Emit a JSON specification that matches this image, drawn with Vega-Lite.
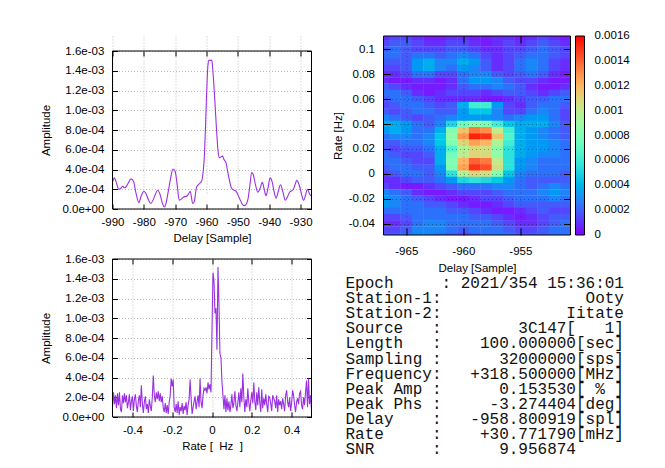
{
"$schema":"https://vega.github.io/schema/vega-lite/v6.json",
"padding":{"left":40.5,"top":35,"right":5,"bottom":5},
"background":"white",
"config":{
 "font":"Liberation Sans",
 "view":{"stroke":"#000","strokeWidth":1},
 "axis":{"labelFont":"Liberation Sans","labelFontSize":11.5,"labelColor":"#000","titleFont":"Liberation Sans","titleFontSize":11.5,"titleFontWeight":"normal","titleColor":"#000","domain":false,"tickColor":"#000","tickSize":-5,"tickWidth":1,"gridColor":"#bdbdbd","gridDash":[1,2],"gridOpacity":1,"labelOverlap":false,"labelFlush":false},
 "legend":{"gradientStrokeColor":"#000","gradientStrokeWidth":1,"labelFont":"Liberation Sans","labelFontSize":11.5,"labelColor":"#000"}
},
"datasets":{
"tl":[{"delay":-990,"amp":0.00027},{"delay":-989.4,"amp":0.000315},{"delay":-988.7,"amp":0.00026},{"delay":-988,"amp":0.0002},{"delay":-987.3,"amp":0.00021},{"delay":-986.8,"amp":0.00023},{"delay":-986.2,"amp":0.000215},{"delay":-985.8,"amp":0.00022},{"delay":-985,"amp":0.00026},{"delay":-984.1,"amp":0.000305},{"delay":-983.3,"amp":0.00028},{"delay":-982.5,"amp":0.00016},{"delay":-981.6,"amp":0.000065},{"delay":-980.8,"amp":0.000135},{"delay":-980,"amp":0.00018},{"delay":-979.3,"amp":0.000155},{"delay":-978.5,"amp":0.00009},{"delay":-977.8,"amp":0.000055},{"delay":-977,"amp":0.000095},{"delay":-976.3,"amp":0.00015},{"delay":-975.6,"amp":0.00019},{"delay":-974.8,"amp":0.000145},{"delay":-974.1,"amp":0.00006},{"delay":-973.5,"amp":0.00002},{"delay":-972.9,"amp":0.00006},{"delay":-972.3,"amp":0.00016},{"delay":-971.4,"amp":0.00032},{"delay":-970.7,"amp":0.000405},{"delay":-970,"amp":0.00038},{"delay":-969.3,"amp":0.00023},{"delay":-968.7,"amp":0.00009},{"delay":-968,"amp":0.0001},{"delay":-967.4,"amp":0.00012},{"delay":-966.3,"amp":0.00013},{"delay":-965.6,"amp":0.00016},{"delay":-965.2,"amp":0.00018},{"delay":-964.4,"amp":0.000055},{"delay":-963.9,"amp":0.000075},{"delay":-963.2,"amp":0.00022},{"delay":-962.5,"amp":0.00025},{"delay":-961.6,"amp":0.00028},{"delay":-961,"amp":0.0004},{"delay":-960.7,"amp":0.00053},{"delay":-960.3,"amp":0.00085},{"delay":-960,"amp":0.00114},{"delay":-959.6,"amp":0.00143},{"delay":-959.3,"amp":0.001505},{"delay":-958.3,"amp":0.001505},{"delay":-958.1,"amp":0.00145},{"delay":-957.7,"amp":0.00128},{"delay":-957.3,"amp":0.001075},{"delay":-956.8,"amp":0.0008},{"delay":-956.3,"amp":0.00058},{"delay":-955.9,"amp":0.00052},{"delay":-955.3,"amp":0.00053},{"delay":-954.9,"amp":0.000535},{"delay":-954.4,"amp":0.0005},{"delay":-953.8,"amp":0.00047},{"delay":-953,"amp":0.00034},{"delay":-952,"amp":0.00021},{"delay":-951.2,"amp":0.00019},{"delay":-950.6,"amp":0.00018},{"delay":-949.5,"amp":0.00011},{"delay":-948.6,"amp":0.00005},{"delay":-947.9,"amp":0.000034},{"delay":-947.3,"amp":0.00005},{"delay":-946.8,"amp":0.000095},{"delay":-946.2,"amp":0.00023},{"delay":-945.6,"amp":0.00037},{"delay":-945.1,"amp":0.00035},{"delay":-944.4,"amp":0.00025},{"delay":-943.6,"amp":0.00017},{"delay":-942.9,"amp":0.00021},{"delay":-942.2,"amp":0.00027},{"delay":-941.6,"amp":0.0002},{"delay":-941,"amp":0.000135},{"delay":-940.4,"amp":0.00021},{"delay":-939.7,"amp":0.000315},{"delay":-939.1,"amp":0.00028},{"delay":-938.4,"amp":0.00017},{"delay":-937.8,"amp":0.00011},{"delay":-937.1,"amp":0.00018},{"delay":-936.4,"amp":0.000245},{"delay":-935.6,"amp":0.00017},{"delay":-934.9,"amp":0.000088},{"delay":-934.2,"amp":0.00012},{"delay":-933.5,"amp":0.00017},{"delay":-932.4,"amp":0.000195},{"delay":-931.8,"amp":0.00024},{"delay":-931.2,"amp":0.00029},{"delay":-930.3,"amp":0.00023},{"delay":-929.6,"amp":0.00014},{"delay":-929,"amp":0.000088},{"delay":-928.4,"amp":0.00014},{"delay":-927.8,"amp":0.0002},{"delay":-927,"amp":0.000145},{"delay":-926.5,"amp":0.00013}],
"bl":[{"rate":-0.5,"amp":0.0001},{"rate":-0.495,"amp":0.00025},{"rate":-0.49,"amp":0.00013},{"rate":-0.485,"amp":0.00022},{"rate":-0.48,"amp":0.00009},{"rate":-0.475,"amp":0.00024},{"rate":-0.47,"amp":0.00012},{"rate":-0.465,"amp":0.00025},{"rate":-0.46,"amp":0.00008},{"rate":-0.455,"amp":0.00005},{"rate":-0.45,"amp":0.00022},{"rate":-0.445,"amp":0.00014},{"rate":-0.44,"amp":0.00024},{"rate":-0.435,"amp":0.00015},{"rate":-0.43,"amp":0.00022},{"rate":-0.425,"amp":0.00009},{"rate":-0.42,"amp":0.00015},{"rate":-0.415,"amp":0.00023},{"rate":-0.41,"amp":0.00007},{"rate":-0.405,"amp":0.00016},{"rate":-0.4,"amp":0.00021},{"rate":-0.395,"amp":0.00006},{"rate":-0.39,"amp":0.00018},{"rate":-0.385,"amp":0.00023},{"rate":-0.38,"amp":0.00011},{"rate":-0.375,"amp":0.00005},{"rate":-0.37,"amp":0.00017},{"rate":-0.365,"amp":0.00022},{"rate":-0.36,"amp":0.0001},{"rate":-0.355,"amp":0.00032},{"rate":-0.35,"amp":0.00014},{"rate":-0.345,"amp":0.00004},{"rate":-0.34,"amp":0.00015},{"rate":-0.335,"amp":0.00021},{"rate":-0.33,"amp":0.00008},{"rate":-0.325,"amp":0.00013},{"rate":-0.32,"amp":0.00004},{"rate":-0.315,"amp":0.00018},{"rate":-0.31,"amp":0.00011},{"rate":-0.305,"amp":0.00006},{"rate":-0.3,"amp":0.0002},{"rate":-0.295,"amp":0.00042},{"rate":-0.29,"amp":0.00022},{"rate":-0.285,"amp":0.00015},{"rate":-0.28,"amp":0.00025},{"rate":-0.275,"amp":0.00018},{"rate":-0.27,"amp":0.00026},{"rate":-0.265,"amp":0.00016},{"rate":-0.26,"amp":0.00024},{"rate":-0.255,"amp":0.00015},{"rate":-0.25,"amp":0.00021},{"rate":-0.245,"amp":0.00009},{"rate":-0.24,"amp":0.00005},{"rate":-0.235,"amp":0.00014},{"rate":-0.23,"amp":0.00004},{"rate":-0.225,"amp":0.00012},{"rate":-0.22,"amp":0.00003},{"rate":-0.215,"amp":0.00015},{"rate":-0.21,"amp":0.00022},{"rate":-0.205,"amp":0.00039},{"rate":-0.2,"amp":0.00031},{"rate":-0.195,"amp":0.00038},{"rate":-0.19,"amp":0.0001},{"rate":-0.185,"amp":0.00005},{"rate":-0.18,"amp":0.00013},{"rate":-0.175,"amp":0.00004},{"rate":-0.17,"amp":0.00016},{"rate":-0.165,"amp":0.00002},{"rate":-0.16,"amp":0.0001},{"rate":-0.155,"amp":0.00006},{"rate":-0.15,"amp":0.00014},{"rate":-0.145,"amp":0.00003},{"rate":-0.14,"amp":0.00011},{"rate":-0.135,"amp":0.00007},{"rate":-0.13,"amp":0.00015},{"rate":-0.125,"amp":0.00002},{"rate":-0.12,"amp":0.00012},{"rate":-0.115,"amp":0.00018},{"rate":-0.11,"amp":0.00038},{"rate":-0.105,"amp":0.00019},{"rate":-0.1,"amp":0.00003},{"rate":-0.095,"amp":0.0001},{"rate":-0.09,"amp":0.00016},{"rate":-0.085,"amp":0.00021},{"rate":-0.08,"amp":0.00008},{"rate":-0.075,"amp":0.00015},{"rate":-0.07,"amp":0.00022},{"rate":-0.065,"amp":0.0001},{"rate":-0.06,"amp":0.00039},{"rate":-0.055,"amp":0.00015},{"rate":-0.05,"amp":0.00009},{"rate":-0.045,"amp":0.00022},{"rate":-0.04,"amp":0.00029},{"rate":-0.035,"amp":0.00027},{"rate":-0.03,"amp":0.0003},{"rate":-0.025,"amp":0.00024},{"rate":-0.02,"amp":0.00035},{"rate":-0.015,"amp":0.00028},{"rate":-0.01,"amp":0.00033},{"rate":-0.005,"amp":0.00025},{"rate":0,"amp":0.0009},{"rate":0.005,"amp":0.00146},{"rate":0.01,"amp":0.00138},{"rate":0.015,"amp":0.00105},{"rate":0.02,"amp":0.0011},{"rate":0.025,"amp":0.00068},{"rate":0.03,"amp":0.00152},{"rate":0.035,"amp":0.00115},{"rate":0.04,"amp":0.00064},{"rate":0.045,"amp":0.0006},{"rate":0.05,"amp":0.00036},{"rate":0.055,"amp":0.00022},{"rate":0.06,"amp":0.00008},{"rate":0.065,"amp":0.00022},{"rate":0.07,"amp":0.00005},{"rate":0.075,"amp":0.00019},{"rate":0.08,"amp":0.00007},{"rate":0.085,"amp":0.00016},{"rate":0.09,"amp":0.00005},{"rate":0.095,"amp":0.00012},{"rate":0.1,"amp":0.00023},{"rate":0.105,"amp":0.00009},{"rate":0.11,"amp":0.00014},{"rate":0.115,"amp":0.00026},{"rate":0.12,"amp":0.00012},{"rate":0.125,"amp":0.00006},{"rate":0.13,"amp":0.00015},{"rate":0.135,"amp":0.00025},{"rate":0.14,"amp":0.0001},{"rate":0.145,"amp":0.00029},{"rate":0.15,"amp":0.00015},{"rate":0.155,"amp":0.00044},{"rate":0.16,"amp":0.0002},{"rate":0.165,"amp":0.00005},{"rate":0.17,"amp":0.00018},{"rate":0.175,"amp":0.0001},{"rate":0.18,"amp":0.00029},{"rate":0.185,"amp":0.00015},{"rate":0.19,"amp":0.00006},{"rate":0.195,"amp":0.00017},{"rate":0.2,"amp":0.00025},{"rate":0.205,"amp":0.00014},{"rate":0.21,"amp":0.00035},{"rate":0.215,"amp":0.00016},{"rate":0.22,"amp":0.00007},{"rate":0.225,"amp":0.00025},{"rate":0.23,"amp":0.00012},{"rate":0.235,"amp":0.0003},{"rate":0.24,"amp":0.00015},{"rate":0.245,"amp":0.00005},{"rate":0.25,"amp":0.00028},{"rate":0.255,"amp":0.00009},{"rate":0.26,"amp":0.00019},{"rate":0.265,"amp":0.00012},{"rate":0.27,"amp":0.00023},{"rate":0.275,"amp":0.00013},{"rate":0.28,"amp":0.00005},{"rate":0.285,"amp":0.00021},{"rate":0.29,"amp":0.0002},{"rate":0.295,"amp":0.00014},{"rate":0.3,"amp":0.00006},{"rate":0.305,"amp":0.00022},{"rate":0.31,"amp":0.00019},{"rate":0.315,"amp":0.00016},{"rate":0.32,"amp":0.00009},{"rate":0.325,"amp":0.00022},{"rate":0.33,"amp":0.00005},{"rate":0.335,"amp":0.00018},{"rate":0.34,"amp":0.00012},{"rate":0.345,"amp":0.00016},{"rate":0.35,"amp":0.00008},{"rate":0.355,"amp":0.00019},{"rate":0.36,"amp":0.00013},{"rate":0.365,"amp":0.00006},{"rate":0.37,"amp":0.00022},{"rate":0.375,"amp":0.00027},{"rate":0.38,"amp":0.00015},{"rate":0.385,"amp":0.0001},{"rate":0.39,"amp":0.0002},{"rate":0.395,"amp":0.00006},{"rate":0.4,"amp":0.00014},{"rate":0.405,"amp":0.00027},{"rate":0.41,"amp":0.00022},{"rate":0.415,"amp":0.00012},{"rate":0.42,"amp":0.00005},{"rate":0.425,"amp":0.00015},{"rate":0.43,"amp":0.00019},{"rate":0.435,"amp":0.00013},{"rate":0.44,"amp":0.00024},{"rate":0.445,"amp":0.00026},{"rate":0.45,"amp":0.00012},{"rate":0.455,"amp":0.00008},{"rate":0.46,"amp":0.0002},{"rate":0.465,"amp":0.00012},{"rate":0.47,"amp":0.00025},{"rate":0.475,"amp":0.00037},{"rate":0.48,"amp":0.0001},{"rate":0.485,"amp":0.00039},{"rate":0.49,"amp":0.00013},{"rate":0.495,"amp":0.00022},{"rate":0.5,"amp":0.00007}],
"hm":[
{"d":-967,"r":0.11,"a":0.00008},{"d":-966,"r":0.11,"a":0.00013},{"d":-965,"r":0.11,"a":0.00013},{"d":-964,"r":0.11,"a":0.00008},{"d":-963,"r":0.11,"a":0.00003},{"d":-962,"r":0.11,"a":0.00003},{"d":-961,"r":0.11,"a":0.00008},{"d":-960,"r":0.11,"a":0.00008},{"d":-959,"r":0.11,"a":0.00003},{"d":-958,"r":0.11,"a":0.00003},{"d":-957,"r":0.11,"a":0.00008},{"d":-956,"r":0.11,"a":0.00008},{"d":-955,"r":0.11,"a":0.00003},{"d":-954,"r":0.11,"a":0.00008},{"d":-953,"r":0.11,"a":0.00013},{"d":-952,"r":0.11,"a":0.00008},{"d":-951,"r":0.11,"a":0.00003},
{"d":-967,"r":0.105,"a":0.00013},{"d":-966,"r":0.105,"a":0.00018},{"d":-965,"r":0.105,"a":0.00018},{"d":-964,"r":0.105,"a":0.00013},{"d":-963,"r":0.105,"a":0.00008},{"d":-962,"r":0.105,"a":0.00008},{"d":-961,"r":0.105,"a":0.00013},{"d":-960,"r":0.105,"a":0.00013},{"d":-959,"r":0.105,"a":0.00008},{"d":-958,"r":0.105,"a":0.00003},{"d":-957,"r":0.105,"a":0.00008},{"d":-956,"r":0.105,"a":0.00013},{"d":-955,"r":0.105,"a":0.00008},{"d":-954,"r":0.105,"a":0.00013},{"d":-953,"r":0.105,"a":0.00018},{"d":-952,"r":0.105,"a":0.00013},{"d":-951,"r":0.105,"a":0.00008},
{"d":-967,"r":0.1,"a":0.00018},{"d":-966,"r":0.1,"a":0.00023},{"d":-965,"r":0.1,"a":0.00018},{"d":-964,"r":0.1,"a":0.00013},{"d":-963,"r":0.1,"a":0.00013},{"d":-962,"r":0.1,"a":0.00013},{"d":-961,"r":0.1,"a":0.00018},{"d":-960,"r":0.1,"a":0.00018},{"d":-959,"r":0.1,"a":0.00013},{"d":-958,"r":0.1,"a":0.00008},{"d":-957,"r":0.1,"a":0.00008},{"d":-956,"r":0.1,"a":0.00013},{"d":-955,"r":0.1,"a":0.00013},{"d":-954,"r":0.1,"a":0.00018},{"d":-953,"r":0.1,"a":0.00023},{"d":-952,"r":0.1,"a":0.00018},{"d":-951,"r":0.1,"a":0.00013},
{"d":-967,"r":0.095,"a":0.00023},{"d":-966,"r":0.095,"a":0.00023},{"d":-965,"r":0.095,"a":0.00018},{"d":-964,"r":0.095,"a":0.00023},{"d":-963,"r":0.095,"a":0.00023},{"d":-962,"r":0.095,"a":0.00018},{"d":-961,"r":0.095,"a":0.00023},{"d":-960,"r":0.095,"a":0.00028},{"d":-959,"r":0.095,"a":0.00023},{"d":-958,"r":0.095,"a":0.00013},{"d":-957,"r":0.095,"a":0.00008},{"d":-956,"r":0.095,"a":0.00013},{"d":-955,"r":0.095,"a":0.00018},{"d":-954,"r":0.095,"a":0.00023},{"d":-953,"r":0.095,"a":0.00023},{"d":-952,"r":0.095,"a":0.00018},{"d":-951,"r":0.095,"a":0.00013},
{"d":-967,"r":0.09,"a":0.00018},{"d":-966,"r":0.09,"a":0.00018},{"d":-965,"r":0.09,"a":0.00018},{"d":-964,"r":0.09,"a":0.00033},{"d":-963,"r":0.09,"a":0.00038},{"d":-962,"r":0.09,"a":0.00028},{"d":-961,"r":0.09,"a":0.00028},{"d":-960,"r":0.09,"a":0.00038},{"d":-959,"r":0.09,"a":0.00033},{"d":-958,"r":0.09,"a":0.00018},{"d":-957,"r":0.09,"a":0.00008},{"d":-956,"r":0.09,"a":0.00013},{"d":-955,"r":0.09,"a":0.00023},{"d":-954,"r":0.09,"a":0.00028},{"d":-953,"r":0.09,"a":0.00023},{"d":-952,"r":0.09,"a":0.00013},{"d":-951,"r":0.09,"a":0.00008},
{"d":-967,"r":0.085,"a":0.00013},{"d":-966,"r":0.085,"a":0.00013},{"d":-965,"r":0.085,"a":0.00018},{"d":-964,"r":0.085,"a":0.00033},{"d":-963,"r":0.085,"a":0.00038},{"d":-962,"r":0.085,"a":0.00028},{"d":-961,"r":0.085,"a":0.00023},{"d":-960,"r":0.085,"a":0.00033},{"d":-959,"r":0.085,"a":0.00028},{"d":-958,"r":0.085,"a":0.00018},{"d":-957,"r":0.085,"a":0.00008},{"d":-956,"r":0.085,"a":0.00013},{"d":-955,"r":0.085,"a":0.00023},{"d":-954,"r":0.085,"a":0.00028},{"d":-953,"r":0.085,"a":0.00023},{"d":-952,"r":0.085,"a":0.00013},{"d":-951,"r":0.085,"a":0.00008},
{"d":-967,"r":0.08,"a":0.00008},{"d":-966,"r":0.08,"a":0.00008},{"d":-965,"r":0.08,"a":0.00013},{"d":-964,"r":0.08,"a":0.00023},{"d":-963,"r":0.08,"a":0.00023},{"d":-962,"r":0.08,"a":0.00013},{"d":-961,"r":0.08,"a":0.00013},{"d":-960,"r":0.08,"a":0.00023},{"d":-959,"r":0.08,"a":0.00028},{"d":-958,"r":0.08,"a":0.00028},{"d":-957,"r":0.08,"a":0.00018},{"d":-956,"r":0.08,"a":0.00013},{"d":-955,"r":0.08,"a":0.00018},{"d":-954,"r":0.08,"a":0.00023},{"d":-953,"r":0.08,"a":0.00018},{"d":-952,"r":0.08,"a":0.00008},{"d":-951,"r":0.08,"a":0.00003},
{"d":-967,"r":0.075,"a":0.00008},{"d":-966,"r":0.075,"a":0.00003},{"d":-965,"r":0.075,"a":0.00003},{"d":-964,"r":0.075,"a":0.00008},{"d":-963,"r":0.075,"a":0.00008},{"d":-962,"r":0.075,"a":0.00003},{"d":-961,"r":0.075,"a":0.00008},{"d":-960,"r":0.075,"a":0.00023},{"d":-959,"r":0.075,"a":0.00033},{"d":-958,"r":0.075,"a":0.00033},{"d":-957,"r":0.075,"a":0.00028},{"d":-956,"r":0.075,"a":0.00018},{"d":-955,"r":0.075,"a":0.00013},{"d":-954,"r":0.075,"a":0.00013},{"d":-953,"r":0.075,"a":0.00008},{"d":-952,"r":0.075,"a":0.00003},{"d":-951,"r":0.075,"a":0.00003},
{"d":-967,"r":0.07,"a":0.00018},{"d":-966,"r":0.07,"a":0.00013},{"d":-965,"r":0.07,"a":0.00008},{"d":-964,"r":0.07,"a":0.00003},{"d":-963,"r":0.07,"a":0.00003},{"d":-962,"r":0.07,"a":0.00003},{"d":-961,"r":0.07,"a":0.00008},{"d":-960,"r":0.07,"a":0.00018},{"d":-959,"r":0.07,"a":0.00023},{"d":-958,"r":0.07,"a":0.00023},{"d":-957,"r":0.07,"a":0.00028},{"d":-956,"r":0.07,"a":0.00023},{"d":-955,"r":0.07,"a":0.00018},{"d":-954,"r":0.07,"a":0.00008},{"d":-953,"r":0.07,"a":0.00003},{"d":-952,"r":0.07,"a":0.00003},{"d":-951,"r":0.07,"a":0.00008},
{"d":-967,"r":0.065,"a":0.00023},{"d":-966,"r":0.065,"a":0.00023},{"d":-965,"r":0.065,"a":0.00018},{"d":-964,"r":0.065,"a":0.00008},{"d":-963,"r":0.065,"a":0.00003},{"d":-962,"r":0.065,"a":0.00008},{"d":-961,"r":0.065,"a":0.00013},{"d":-960,"r":0.065,"a":0.00013},{"d":-959,"r":0.065,"a":0.00013},{"d":-958,"r":0.065,"a":0.00008},{"d":-957,"r":0.065,"a":0.00013},{"d":-956,"r":0.065,"a":0.00018},{"d":-955,"r":0.065,"a":0.00018},{"d":-954,"r":0.065,"a":0.00013},{"d":-953,"r":0.065,"a":0.00008},{"d":-952,"r":0.065,"a":0.00013},{"d":-951,"r":0.065,"a":0.00018},
{"d":-967,"r":0.06,"a":0.00018},{"d":-966,"r":0.06,"a":0.00023},{"d":-965,"r":0.06,"a":0.00023},{"d":-964,"r":0.06,"a":0.00018},{"d":-963,"r":0.06,"a":0.00013},{"d":-962,"r":0.06,"a":0.00008},{"d":-961,"r":0.06,"a":0.00008},{"d":-960,"r":0.06,"a":0.00008},{"d":-959,"r":0.06,"a":0.00008},{"d":-958,"r":0.06,"a":0.00003},{"d":-957,"r":0.06,"a":0.00003},{"d":-956,"r":0.06,"a":0.00008},{"d":-955,"r":0.06,"a":0.00013},{"d":-954,"r":0.06,"a":0.00018},{"d":-953,"r":0.06,"a":0.00018},{"d":-952,"r":0.06,"a":0.00023},{"d":-951,"r":0.06,"a":0.00023},
{"d":-967,"r":0.055,"a":0.00013},{"d":-966,"r":0.055,"a":0.00018},{"d":-965,"r":0.055,"a":0.00023},{"d":-964,"r":0.055,"a":0.00023},{"d":-963,"r":0.055,"a":0.00018},{"d":-962,"r":0.055,"a":0.00013},{"d":-961,"r":0.055,"a":0.00018},{"d":-960,"r":0.055,"a":0.00038},{"d":-959,"r":0.055,"a":0.00061},{"d":-958,"r":0.055,"a":0.00061},{"d":-957,"r":0.055,"a":0.00033},{"d":-956,"r":0.055,"a":0.00013},{"d":-955,"r":0.055,"a":0.00008},{"d":-954,"r":0.055,"a":0.00018},{"d":-953,"r":0.055,"a":0.00023},{"d":-952,"r":0.055,"a":0.00023},{"d":-951,"r":0.055,"a":0.00018},
{"d":-967,"r":0.05,"a":0.00018},{"d":-966,"r":0.05,"a":0.00013},{"d":-965,"r":0.05,"a":0.00018},{"d":-964,"r":0.05,"a":0.00023},{"d":-963,"r":0.05,"a":0.00023},{"d":-962,"r":0.05,"a":0.00018},{"d":-961,"r":0.05,"a":0.00018},{"d":-960,"r":0.05,"a":0.00033},{"d":-959,"r":0.05,"a":0.00046},{"d":-958,"r":0.05,"a":0.00046},{"d":-957,"r":0.05,"a":0.00028},{"d":-956,"r":0.05,"a":0.00013},{"d":-955,"r":0.05,"a":0.00013},{"d":-954,"r":0.05,"a":0.00023},{"d":-953,"r":0.05,"a":0.00028},{"d":-952,"r":0.05,"a":0.00023},{"d":-951,"r":0.05,"a":0.00013},
{"d":-967,"r":0.045,"a":0.00028},{"d":-966,"r":0.045,"a":0.00023},{"d":-965,"r":0.045,"a":0.00018},{"d":-964,"r":0.045,"a":0.00013},{"d":-963,"r":0.045,"a":0.00018},{"d":-962,"r":0.045,"a":0.00023},{"d":-961,"r":0.045,"a":0.00028},{"d":-960,"r":0.045,"a":0.00033},{"d":-959,"r":0.045,"a":0.00033},{"d":-958,"r":0.045,"a":0.00033},{"d":-957,"r":0.045,"a":0.00028},{"d":-956,"r":0.045,"a":0.00023},{"d":-955,"r":0.045,"a":0.00028},{"d":-954,"r":0.045,"a":0.00033},{"d":-953,"r":0.045,"a":0.00033},{"d":-952,"r":0.045,"a":0.00023},{"d":-951,"r":0.045,"a":0.00013},
{"d":-967,"r":0.04,"a":0.00038},{"d":-966,"r":0.04,"a":0.00038},{"d":-965,"r":0.04,"a":0.00033},{"d":-964,"r":0.04,"a":0.00023},{"d":-963,"r":0.04,"a":0.00018},{"d":-962,"r":0.04,"a":0.00028},{"d":-961,"r":0.04,"a":0.00051},{"d":-960,"r":0.04,"a":0.00075},{"d":-959,"r":0.04,"a":0.00085},{"d":-958,"r":0.04,"a":0.0008},{"d":-957,"r":0.04,"a":0.00061},{"d":-956,"r":0.04,"a":0.00046},{"d":-955,"r":0.04,"a":0.00038},{"d":-954,"r":0.04,"a":0.00038},{"d":-953,"r":0.04,"a":0.00038},{"d":-952,"r":0.04,"a":0.00028},{"d":-951,"r":0.04,"a":0.00018},
{"d":-967,"r":0.035,"a":0.00033},{"d":-966,"r":0.035,"a":0.00038},{"d":-965,"r":0.035,"a":0.00033},{"d":-964,"r":0.035,"a":0.00023},{"d":-963,"r":0.035,"a":0.00023},{"d":-962,"r":0.035,"a":0.00038},{"d":-961,"r":0.035,"a":0.0008},{"d":-960,"r":0.035,"a":0.00115},{"d":-959,"r":0.035,"a":0.00135},{"d":-958,"r":0.035,"a":0.0013},{"d":-957,"r":0.035,"a":0.001},{"d":-956,"r":0.035,"a":0.00061},{"d":-955,"r":0.035,"a":0.00038},{"d":-954,"r":0.035,"a":0.00033},{"d":-953,"r":0.035,"a":0.00028},{"d":-952,"r":0.035,"a":0.00023},{"d":-951,"r":0.035,"a":0.00018},
{"d":-967,"r":0.03,"a":0.00023},{"d":-966,"r":0.03,"a":0.00028},{"d":-965,"r":0.03,"a":0.00028},{"d":-964,"r":0.03,"a":0.00023},{"d":-963,"r":0.03,"a":0.00028},{"d":-962,"r":0.03,"a":0.00046},{"d":-961,"r":0.03,"a":0.00085},{"d":-960,"r":0.03,"a":0.00128},{"d":-959,"r":0.03,"a":0.00155},{"d":-958,"r":0.03,"a":0.0015},{"d":-957,"r":0.03,"a":0.00115},{"d":-956,"r":0.03,"a":0.00066},{"d":-955,"r":0.03,"a":0.00038},{"d":-954,"r":0.03,"a":0.00033},{"d":-953,"r":0.03,"a":0.00028},{"d":-952,"r":0.03,"a":0.00023},{"d":-951,"r":0.03,"a":0.00018},
{"d":-967,"r":0.025,"a":0.00018},{"d":-966,"r":0.025,"a":0.00018},{"d":-965,"r":0.025,"a":0.00023},{"d":-964,"r":0.025,"a":0.00023},{"d":-963,"r":0.025,"a":0.00028},{"d":-962,"r":0.025,"a":0.00046},{"d":-961,"r":0.025,"a":0.0008},{"d":-960,"r":0.025,"a":0.0011},{"d":-959,"r":0.025,"a":0.00125},{"d":-958,"r":0.025,"a":0.0012},{"d":-957,"r":0.025,"a":0.00095},{"d":-956,"r":0.025,"a":0.00061},{"d":-955,"r":0.025,"a":0.00038},{"d":-954,"r":0.025,"a":0.00033},{"d":-953,"r":0.025,"a":0.00033},{"d":-952,"r":0.025,"a":0.00028},{"d":-951,"r":0.025,"a":0.00023},
{"d":-967,"r":0.02,"a":0.00018},{"d":-966,"r":0.02,"a":0.00013},{"d":-965,"r":0.02,"a":0.00018},{"d":-964,"r":0.02,"a":0.00018},{"d":-963,"r":0.02,"a":0.00023},{"d":-962,"r":0.02,"a":0.00038},{"d":-961,"r":0.02,"a":0.00066},{"d":-960,"r":0.02,"a":0.00095},{"d":-959,"r":0.02,"a":0.00108},{"d":-958,"r":0.02,"a":0.00105},{"d":-957,"r":0.02,"a":0.00085},{"d":-956,"r":0.02,"a":0.00056},{"d":-955,"r":0.02,"a":0.00038},{"d":-954,"r":0.02,"a":0.00033},{"d":-953,"r":0.02,"a":0.00033},{"d":-952,"r":0.02,"a":0.00028},{"d":-951,"r":0.02,"a":0.00023},
{"d":-967,"r":0.015,"a":0.00023},{"d":-966,"r":0.015,"a":0.00018},{"d":-965,"r":0.015,"a":0.00013},{"d":-964,"r":0.015,"a":0.00013},{"d":-963,"r":0.015,"a":0.00018},{"d":-962,"r":0.015,"a":0.00038},{"d":-961,"r":0.015,"a":0.00075},{"d":-960,"r":0.015,"a":0.001},{"d":-959,"r":0.015,"a":0.0011},{"d":-958,"r":0.015,"a":0.00108},{"d":-957,"r":0.015,"a":0.00085},{"d":-956,"r":0.015,"a":0.00056},{"d":-955,"r":0.015,"a":0.00038},{"d":-954,"r":0.015,"a":0.00033},{"d":-953,"r":0.015,"a":0.00028},{"d":-952,"r":0.015,"a":0.00028},{"d":-951,"r":0.015,"a":0.00023},
{"d":-967,"r":0.01,"a":0.00023},{"d":-966,"r":0.01,"a":0.00023},{"d":-965,"r":0.01,"a":0.00018},{"d":-964,"r":0.01,"a":0.00013},{"d":-963,"r":0.01,"a":0.00013},{"d":-962,"r":0.01,"a":0.00038},{"d":-961,"r":0.01,"a":0.0008},{"d":-960,"r":0.01,"a":0.0012},{"d":-959,"r":0.01,"a":0.0014},{"d":-958,"r":0.01,"a":0.00135},{"d":-957,"r":0.01,"a":0.001},{"d":-956,"r":0.01,"a":0.00056},{"d":-955,"r":0.01,"a":0.00033},{"d":-954,"r":0.01,"a":0.00028},{"d":-953,"r":0.01,"a":0.00023},{"d":-952,"r":0.01,"a":0.00023},{"d":-951,"r":0.01,"a":0.00023},
{"d":-967,"r":0.005,"a":0.00018},{"d":-966,"r":0.005,"a":0.00023},{"d":-965,"r":0.005,"a":0.00023},{"d":-964,"r":0.005,"a":0.00018},{"d":-963,"r":0.005,"a":0.00018},{"d":-962,"r":0.005,"a":0.00033},{"d":-961,"r":0.005,"a":0.0008},{"d":-960,"r":0.005,"a":0.00125},{"d":-959,"r":0.005,"a":0.0015},{"d":-958,"r":0.005,"a":0.00145},{"d":-957,"r":0.005,"a":0.00105},{"d":-956,"r":0.005,"a":0.00056},{"d":-955,"r":0.005,"a":0.00033},{"d":-954,"r":0.005,"a":0.00028},{"d":-953,"r":0.005,"a":0.00023},{"d":-952,"r":0.005,"a":0.00023},{"d":-951,"r":0.005,"a":0.00023},
{"d":-967,"r":0,"a":0.00013},{"d":-966,"r":0,"a":0.00018},{"d":-965,"r":0,"a":0.00023},{"d":-964,"r":0,"a":0.00023},{"d":-963,"r":0,"a":0.00018},{"d":-962,"r":0,"a":0.00028},{"d":-961,"r":0,"a":0.00056},{"d":-960,"r":0,"a":0.00095},{"d":-959,"r":0,"a":0.0011},{"d":-958,"r":0,"a":0.00105},{"d":-957,"r":0,"a":0.0008},{"d":-956,"r":0,"a":0.00046},{"d":-955,"r":0,"a":0.00028},{"d":-954,"r":0,"a":0.00023},{"d":-953,"r":0,"a":0.00023},{"d":-952,"r":0,"a":0.00023},{"d":-951,"r":0,"a":0.00018},
{"d":-967,"r":-0.005,"a":0.00008},{"d":-966,"r":-0.005,"a":0.00008},{"d":-965,"r":-0.005,"a":0.00013},{"d":-964,"r":-0.005,"a":0.00018},{"d":-963,"r":-0.005,"a":0.00018},{"d":-962,"r":-0.005,"a":0.00023},{"d":-961,"r":-0.005,"a":0.00033},{"d":-960,"r":-0.005,"a":0.00051},{"d":-959,"r":-0.005,"a":0.00056},{"d":-958,"r":-0.005,"a":0.00051},{"d":-957,"r":-0.005,"a":0.00046},{"d":-956,"r":-0.005,"a":0.00033},{"d":-955,"r":-0.005,"a":0.00023},{"d":-954,"r":-0.005,"a":0.00018},{"d":-953,"r":-0.005,"a":0.00018},{"d":-952,"r":-0.005,"a":0.00018},{"d":-951,"r":-0.005,"a":0.00018},
{"d":-967,"r":-0.01,"a":0.00013},{"d":-966,"r":-0.01,"a":0.00008},{"d":-965,"r":-0.01,"a":0.00003},{"d":-964,"r":-0.01,"a":0.00003},{"d":-963,"r":-0.01,"a":0.00008},{"d":-962,"r":-0.01,"a":0.00013},{"d":-961,"r":-0.01,"a":0.00018},{"d":-960,"r":-0.01,"a":0.00023},{"d":-959,"r":-0.01,"a":0.00023},{"d":-958,"r":-0.01,"a":0.00023},{"d":-957,"r":-0.01,"a":0.00028},{"d":-956,"r":-0.01,"a":0.00028},{"d":-955,"r":-0.01,"a":0.00023},{"d":-954,"r":-0.01,"a":0.00018},{"d":-953,"r":-0.01,"a":0.00023},{"d":-952,"r":-0.01,"a":0.00028},{"d":-951,"r":-0.01,"a":0.00023},
{"d":-967,"r":-0.015,"a":0.00028},{"d":-966,"r":-0.015,"a":0.00023},{"d":-965,"r":-0.015,"a":0.00018},{"d":-964,"r":-0.015,"a":0.00008},{"d":-963,"r":-0.015,"a":0.00003},{"d":-962,"r":-0.015,"a":0.00003},{"d":-961,"r":-0.015,"a":0.00008},{"d":-960,"r":-0.015,"a":0.00013},{"d":-959,"r":-0.015,"a":0.00013},{"d":-958,"r":-0.015,"a":0.00013},{"d":-957,"r":-0.015,"a":0.00018},{"d":-956,"r":-0.015,"a":0.00023},{"d":-955,"r":-0.015,"a":0.00023},{"d":-954,"r":-0.015,"a":0.00023},{"d":-953,"r":-0.015,"a":0.00028},{"d":-952,"r":-0.015,"a":0.00033},{"d":-951,"r":-0.015,"a":0.00028},
{"d":-967,"r":-0.02,"a":0.00033},{"d":-966,"r":-0.02,"a":0.00028},{"d":-965,"r":-0.02,"a":0.00023},{"d":-964,"r":-0.02,"a":0.00018},{"d":-963,"r":-0.02,"a":0.00013},{"d":-962,"r":-0.02,"a":0.00008},{"d":-961,"r":-0.02,"a":0.00003},{"d":-960,"r":-0.02,"a":0.00003},{"d":-959,"r":-0.02,"a":0.00008},{"d":-958,"r":-0.02,"a":0.00013},{"d":-957,"r":-0.02,"a":0.00013},{"d":-956,"r":-0.02,"a":0.00018},{"d":-955,"r":-0.02,"a":0.00023},{"d":-954,"r":-0.02,"a":0.00023},{"d":-953,"r":-0.02,"a":0.00023},{"d":-952,"r":-0.02,"a":0.00028},{"d":-951,"r":-0.02,"a":0.00023},
{"d":-967,"r":-0.025,"a":0.00033},{"d":-966,"r":-0.025,"a":0.00028},{"d":-965,"r":-0.025,"a":0.00023},{"d":-964,"r":-0.025,"a":0.00023},{"d":-963,"r":-0.025,"a":0.00018},{"d":-962,"r":-0.025,"a":0.00018},{"d":-961,"r":-0.025,"a":0.00013},{"d":-960,"r":-0.025,"a":0.00008},{"d":-959,"r":-0.025,"a":0.00003},{"d":-958,"r":-0.025,"a":0.00003},{"d":-957,"r":-0.025,"a":0.00008},{"d":-956,"r":-0.025,"a":0.00013},{"d":-955,"r":-0.025,"a":0.00018},{"d":-954,"r":-0.025,"a":0.00018},{"d":-953,"r":-0.025,"a":0.00018},{"d":-952,"r":-0.025,"a":0.00018},{"d":-951,"r":-0.025,"a":0.00018},
{"d":-967,"r":-0.03,"a":0.00023},{"d":-966,"r":-0.03,"a":0.00023},{"d":-965,"r":-0.03,"a":0.00023},{"d":-964,"r":-0.03,"a":0.00023},{"d":-963,"r":-0.03,"a":0.00023},{"d":-962,"r":-0.03,"a":0.00023},{"d":-961,"r":-0.03,"a":0.00018},{"d":-960,"r":-0.03,"a":0.00018},{"d":-959,"r":-0.03,"a":0.00013},{"d":-958,"r":-0.03,"a":0.00008},{"d":-957,"r":-0.03,"a":0.00003},{"d":-956,"r":-0.03,"a":0.00003},{"d":-955,"r":-0.03,"a":0.00008},{"d":-954,"r":-0.03,"a":0.00013},{"d":-953,"r":-0.03,"a":0.00018},{"d":-952,"r":-0.03,"a":0.00013},{"d":-951,"r":-0.03,"a":0.00013},
{"d":-967,"r":-0.035,"a":0.00013},{"d":-966,"r":-0.035,"a":0.00013},{"d":-965,"r":-0.035,"a":0.00018},{"d":-964,"r":-0.035,"a":0.00023},{"d":-963,"r":-0.035,"a":0.00023},{"d":-962,"r":-0.035,"a":0.00023},{"d":-961,"r":-0.035,"a":0.00023},{"d":-960,"r":-0.035,"a":0.00023},{"d":-959,"r":-0.035,"a":0.00018},{"d":-958,"r":-0.035,"a":0.00018},{"d":-957,"r":-0.035,"a":0.00013},{"d":-956,"r":-0.035,"a":0.00008},{"d":-955,"r":-0.035,"a":0.00003},{"d":-954,"r":-0.035,"a":0.00008},{"d":-953,"r":-0.035,"a":0.00013},{"d":-952,"r":-0.035,"a":0.00018},{"d":-951,"r":-0.035,"a":0.00018},
{"d":-967,"r":-0.04,"a":0.00008},{"d":-966,"r":-0.04,"a":0.00008},{"d":-965,"r":-0.04,"a":0.00013},{"d":-964,"r":-0.04,"a":0.00023},{"d":-963,"r":-0.04,"a":0.00028},{"d":-962,"r":-0.04,"a":0.00028},{"d":-961,"r":-0.04,"a":0.00023},{"d":-960,"r":-0.04,"a":0.00023},{"d":-959,"r":-0.04,"a":0.00023},{"d":-958,"r":-0.04,"a":0.00023},{"d":-957,"r":-0.04,"a":0.00018},{"d":-956,"r":-0.04,"a":0.00013},{"d":-955,"r":-0.04,"a":0.00008},{"d":-954,"r":-0.04,"a":0.00008},{"d":-953,"r":-0.04,"a":0.00013},{"d":-952,"r":-0.04,"a":0.00018},{"d":-951,"r":-0.04,"a":0.00023},
{"d":-967,"r":-0.045,"a":0.00013},{"d":-966,"r":-0.045,"a":0.00013},{"d":-965,"r":-0.045,"a":0.00018},{"d":-964,"r":-0.045,"a":0.00028},{"d":-963,"r":-0.045,"a":0.00028},{"d":-962,"r":-0.045,"a":0.00028},{"d":-961,"r":-0.045,"a":0.00023},{"d":-960,"r":-0.045,"a":0.00018},{"d":-959,"r":-0.045,"a":0.00023},{"d":-958,"r":-0.045,"a":0.00023},{"d":-957,"r":-0.045,"a":0.00023},{"d":-956,"r":-0.045,"a":0.00018},{"d":-955,"r":-0.045,"a":0.00013},{"d":-954,"r":-0.045,"a":0.00013},{"d":-953,"r":-0.045,"a":0.00018},{"d":-952,"r":-0.045,"a":0.00023},{"d":-951,"r":-0.045,"a":0.00023},
{"d":-967,"r":-0.05,"a":0.00018},{"d":-966,"r":-0.05,"a":0.00018},{"d":-965,"r":-0.05,"a":0.00023},{"d":-964,"r":-0.05,"a":0.00028},{"d":-963,"r":-0.05,"a":0.00028},{"d":-962,"r":-0.05,"a":0.00023},{"d":-961,"r":-0.05,"a":0.00018},{"d":-960,"r":-0.05,"a":0.00013},{"d":-959,"r":-0.05,"a":0.00018},{"d":-958,"r":-0.05,"a":0.00023},{"d":-957,"r":-0.05,"a":0.00023},{"d":-956,"r":-0.05,"a":0.00023},{"d":-955,"r":-0.05,"a":0.00018},{"d":-954,"r":-0.05,"a":0.00018},{"d":-953,"r":-0.05,"a":0.00018},{"d":-952,"r":-0.05,"a":0.00023},{"d":-951,"r":-0.05,"a":0.00023}
],
"info":[
{"row":0,"line":"Epoch\u00a0\u00a0\u00a0\u00a0\u00a0:\u00a02021/354\u00a015:36:01"},
{"row":1,"line":"Station-1:\u00a0\u00a0\u00a0\u00a0\u00a0\u00a0\u00a0\u00a0\u00a0\u00a0\u00a0\u00a0\u00a0\u00a0\u00a0Ooty"},
{"row":2,"line":"Station-2:\u00a0\u00a0\u00a0\u00a0\u00a0\u00a0\u00a0\u00a0\u00a0\u00a0\u00a0\u00a0\u00a0Iitate"},
{"row":3,"line":"Source\u00a0\u00a0\u00a0:\u00a0\u00a0\u00a0\u00a0\u00a0\u00a0\u00a0\u00a03C147[\u00a0\u00a0\u00a01]"},
{"row":4,"line":"Length\u00a0\u00a0\u00a0:\u00a0\u00a0\u00a0\u00a0100.000000[sec]"},
{"row":5,"line":"Sampling\u00a0:\u00a0\u00a0\u00a0\u00a0\u00a0\u00a032000000[sps]"},
{"row":6,"line":"Frequency:\u00a0\u00a0\u00a0+318.500000[MHz]"},
{"row":7,"line":"Peak\u00a0Amp\u00a0:\u00a0\u00a0\u00a0\u00a0\u00a0\u00a00.153530[\u00a0%\u00a0]"},
{"row":8,"line":"Peak\u00a0Phs\u00a0:\u00a0\u00a0\u00a0\u00a0\u00a0-3.274404[deg]"},
{"row":9,"line":"Delay\u00a0\u00a0\u00a0\u00a0:\u00a0\u00a0\u00a0-958.800919[spl]"},
{"row":10,"line":"Rate\u00a0\u00a0\u00a0\u00a0\u00a0:\u00a0\u00a0\u00a0\u00a0+30.771790[mHz]"},
{"row":11,"line":"SNR\u00a0\u00a0\u00a0\u00a0\u00a0\u00a0:\u00a0\u00a0\u00a0\u00a0\u00a0\u00a09.956874"}
]
},
"concat":[
 {"width":199,"height":173,"view":{"stroke":null},
  "layer":[
   {"data":{"name":"tl"},
    "mark":{"type":"line","color":"#9b30e0","strokeWidth":1.1,"interpolate":"monotone","clip":true},
    "encoding":{
      "x":{"field":"delay","type":"quantitative","scale":{"domain":[-990,-926.5],"nice":false,"zero":false},
           "axis":{"orient":"bottom","title":"Delay [Sample]","values":[-990,-980,-970,-960,-950,-940,-930],"labelExpr":"replace(format(datum.value,'~g'),'\u2212','-')","labelPadding":12,"titlePadding":5,"grid":true}},
      "y":{"field":"amp","type":"quantitative","scale":{"domain":[0,0.0016],"nice":false,"range":[173,15]},
           "axis":{"orient":"left","title":"Amplitude","values":[0,0.0002,0.0004,0.0006,0.0008,0.001,0.0012,0.0014,0.0016],"labelExpr":"replace(replace(format(datum.value,'.1e'),'e-','e-0'),'e+','e+0')","labelPadding":13.7,"titlePadding":10,"grid":true}}
    }},
   {"data":{"values":[{}]},
    "mark":{"type":"rect","filled":false,"stroke":"#000","strokeWidth":1},
    "encoding":{
      "x":{"datum":-990,"type":"quantitative","scale":{"domain":[-990,-926.5],"nice":false,"zero":false},
           "axis":{"orient":"top","offset":-15,"labels":false,"title":null,"grid":false,"values":[-990,-980,-970,-960,-950,-940,-930]}},
      "x2":{"datum":-926.5},
      "y":{"datum":0,"type":"quantitative","scale":{"domain":[0,0.0016],"nice":false,"range":[173,15]},
           "axis":{"orient":"right","labels":false,"title":null,"grid":false,"values":[0,0.0002,0.0004,0.0006,0.0008,0.001,0.0012,0.0014,0.0016]}},
      "y2":{"datum":0.0016}
    }}
  ],
  "resolve":{"axis":{"x":"independent","y":"independent"}}
 },
 {"width":187,"height":199,"view":{"stroke":null},
  "layer":[
   {"data":{"name":"hm"},
    "mark":{"type":"rect","width":11.8,"height":6.6,"clip":true},
    "encoding":{
      "x":{"field":"d","type":"quantitative","scale":{"domain":[-967,-950.6],"nice":false,"zero":false},
           "axis":{"orient":"bottom","title":"Delay [Sample]","values":[-965,-960,-955],"labelExpr":"replace(format(datum.value,'~g'),'\u2212','-')","tickSize":-7,"labelPadding":17,"titlePadding":6,"grid":true,"gridColor":"#000","gridOpacity":0.35,"gridDash":[1,3],"zindex":1}},
      "y":{"field":"r","type":"quantitative","scale":{"domain":[-0.0492,0.1108],"nice":false,"zero":false},
           "axis":{"orient":"left","title":"Rate [Hz]","values":[-0.04,-0.02,0,0.02,0.04,0.06,0.08,0.1],"labelExpr":"replace(format(datum.value,'~g'),'\u2212','-')","tickSize":-7,"labelPadding":16,"titlePadding":4.5,"grid":true,"gridColor":"#000","gridOpacity":0.35,"gridDash":[1,3],"zindex":1}},
      "color":{"field":"a","type":"quantitative",
        "scale":{"domain":[0,0.0001,0.0002,0.0003,0.0004,0.0005,0.0006,0.0007,0.0008,0.0009,0.001,0.0011,0.0012,0.0013,0.0014,0.0015,0.0016],
                 "range":["#8000ff","#6032fe","#4062fa","#208ef4","#00b4eb","#20d4e1","#40ebd4","#60fac5","#80ffb4","#a0faa2","#c0eb8e","#dfd478","#ffb462","#ff8e4a","#ff6232","#ff3219","#ff0000"]},
        "legend":{"title":null,"orient":"none","legendX":192,"legendY":0,"direction":"vertical","values":[0,0.0002,0.0004,0.0006,0.0008,0.001,0.0012,0.0014,0.0016],"labelExpr":"format(datum.value,'~g')","gradientLength":199,"gradientThickness":9,"padding":0,"labelOffset":10,"labelAlign":"left",
                  "encode":{"labels":{"update":{"baseline":{"value":"middle"}}}}}}
    }},
   {"data":{"values":[{}]},
    "mark":{"type":"rect","filled":false,"stroke":"#000","strokeWidth":1},
    "encoding":{
      "x":{"datum":-967,"type":"quantitative","scale":{"domain":[-967,-950.6],"nice":false,"zero":false},
           "axis":{"orient":"top","labels":false,"title":null,"grid":false,"tickSize":-7,"values":[-965,-960,-955],"zindex":1}},
      "x2":{"datum":-950.6},
      "y":{"datum":-0.0492,"type":"quantitative","scale":{"domain":[-0.0492,0.1108],"nice":false,"zero":false},
           "axis":{"orient":"right","labels":false,"title":null,"grid":false,"tickSize":-7,"values":[-0.04,-0.02,0,0.02,0.04,0.06,0.08,0.1],"zindex":1}},
      "y2":{"datum":0.1108}
    }}
  ],
  "resolve":{"axis":{"x":"independent","y":"independent"}}
 },
 {"width":199,"height":158,"view":{"stroke":null},
  "layer":[
   {"data":{"name":"bl"},
    "mark":{"type":"line","color":"#9b30e0","strokeWidth":1.1,"clip":true},
    "encoding":{
      "x":{"field":"rate","type":"quantitative","scale":{"domain":[-0.5,0.5],"nice":false,"zero":false},
           "axis":{"orient":"bottom","title":"Rate [\u00a0\u00a0Hz\u00a0\u00a0]","values":[-0.4,-0.2,0,0.2,0.4],"labelExpr":"replace(format(datum.value,'~g'),'\u2212','-')","labelPadding":12,"titlePadding":5,"grid":true}},
      "y":{"field":"amp","type":"quantitative","scale":{"domain":[0,0.0016],"nice":false},
           "axis":{"orient":"left","title":"Amplitude","values":[0,0.0002,0.0004,0.0006,0.0008,0.001,0.0012,0.0014,0.0016],"labelExpr":"replace(replace(format(datum.value,'.1e'),'e-','e-0'),'e+','e+0')","labelPadding":13.7,"titlePadding":10,"grid":true}}
    }},
   {"data":{"values":[{}]},
    "mark":{"type":"rect","filled":false,"stroke":"#000","strokeWidth":1},
    "encoding":{
      "x":{"datum":-0.5,"type":"quantitative","scale":{"domain":[-0.5,0.5],"nice":false,"zero":false},
           "axis":{"orient":"top","labels":false,"title":null,"grid":false,"values":[-0.4,-0.2,0,0.2,0.4]}},
      "x2":{"datum":0.5},
      "y":{"datum":0,"type":"quantitative","scale":{"domain":[0,0.0016],"nice":false},
           "axis":{"orient":"right","labels":false,"title":null,"grid":false,"values":[0,0.0002,0.0004,0.0006,0.0008,0.001,0.0012,0.0014,0.0016]}},
      "y2":{"datum":0.0016}
    }}
  ],
  "resolve":{"axis":{"x":"independent","y":"independent"}}
 },
 {"width":240,"height":200,"view":{"stroke":null},"data":{"name":"info"},
  "mark":{"type":"text","align":"left","baseline":"middle","font":"Liberation Mono","fontSize":16,"color":"#111","x":-38},
  "encoding":{
    "y":{"field":"row","type":"quantitative","scale":{"domain":[0,11],"range":[24,190.1]},"axis":null},
    "text":{"field":"line"}
  }}
],
"columns":2,
"spacing":{"row":24,"column":72},
"align":"each",
"bounds":"flush",
"resolve":{"scale":{"color":"independent"},"legend":{"color":"independent"}}
}
